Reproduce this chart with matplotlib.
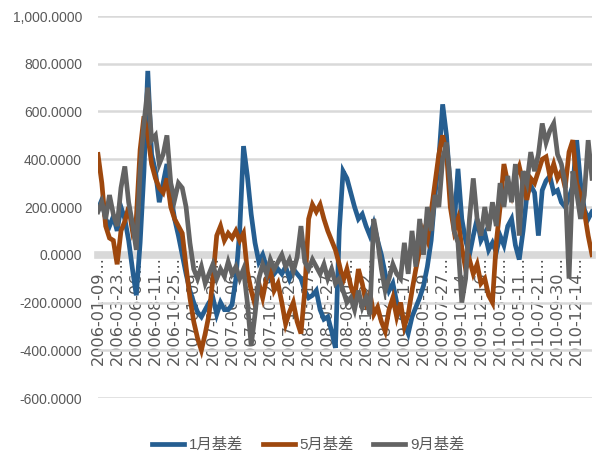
import matplotlib
matplotlib.use("Agg")
import matplotlib.pyplot as plt
from matplotlib.ticker import FuncFormatter

# ---- data: basis series (sampled roughly every 10 trading days) ----
tick_dates = [
    "2006-01-09", "2006-03-23", "2006-06-06", "2006-08-11", "2006-10-25",
    "2007-01-09", "2007-03-26", "2007-06-06", "2007-08-15", "2007-10-29",
    "2007-12-28", "2008-03-17", "2008-05-27", "2008-08-05", "2008-10-22",
    "2008-12-31", "2009-03-17", "2009-05-19", "2009-07-27", "2009-10-14",
    "2009-12-16", "2010-03-02", "2010-05-11", "2010-07-21", "2010-09-30",
    "2010-12-14",
]

jan_basis = [
    190, 230, 150, 120, 160, 100, 200, 150, 60, -60,
    -170, 50, 350, 770, 420, 350, 220, 300, 380, 250,
    150, 80, 0, -80, -150, -200, -240, -260, -230, -200,
    -180, -250, -200, -230, -230, -210, -100, 100, 455, 330,
    170, 50, -30, 0, -50, -100, -80, -60, -80, -50,
    -100, -60, -80, -100, -150, -180, -170, -150, -230, -270,
    -260, -320, -390, 100, 350, 320, 260, 200, 150, 170,
    120, 80, 130, 60, 0, -80, -150, -120, -200, -240,
    -290, -330, -260, -220, -180, -130, -50, 60, 250, 400,
    630, 500, 280, 120, 360, 150, 60, 0, 80, 150,
    60, 90, 20, 50, 10, 80, 40, 120, 150, 40,
    -20, 100, 250, 290, 260, 80, 270, 310, 330, 260,
    270, 220, 200, 240, 290, 480, 300, 190, 150, 180,
]

may_basis = [
    420, 300, 120, 70, 60, -40, 100, 140, 200, 100,
    150, 440, 580, 500, 380, 320, 280, 260, 320, 200,
    150, 120, 90, -50, -180, -280, -350, -400, -330, -250,
    -100, 80, 120, 60, 90, 70, 100, 60, 90, -70,
    -150, -210, -120, -180, -100, -60, -150, -120, -200, -290,
    -240, -200, -280, -330, -150, 150, 210, 180, 210, 150,
    100, 60, 20, -40, -110, -60, -130, -180, -60, -120,
    -200, -160, -250, -220, -280, -320, -230, -180, -260, -200,
    -300, -250, -150, -60, 20, 100, 60, 180, 300, 420,
    500, 430, 200, 100, 150, 30, -60, -20, -80, -40,
    -120, -100, -170, -200, 50, 200, 380, 300, 250, 330,
    370, 300, 230, 320, 300, 350, 400, 410, 330, 380,
    320, 350, 280, 430, 480, 300, 250, 180, 80, 0,
]

sep_basis = [
    180, 220, 150, 250, 170, 120, 280, 370, 220, 130,
    20, 350, 550, 700, 480, 500, 380, 420, 500, 300,
    230, 300, 280, 200, 50, -60, -100, -50, -120, -80,
    -40, -100, -60, -90, -30, -80, -50, -100, -60, -200,
    -380, -250, -100, -40, -80, -20, -60, -30, 0, -50,
    -20, -70, -10, 120, -30, -60, -20, -50, -80, -40,
    -100, -60, -120, -100, -150, -200, -180, -230, -150, -220,
    -180, -250, 150, 60, -60, -150, -100, -40, -80, -100,
    50, -80, 100, -50, 150, 0, 200, 100, 250, 200,
    400, 470, 300, 100, 50, -200, -100, 150, 320, 150,
    80, 200, 100, 220, 120, 300, 200, 330, 220, 380,
    80, 350, 300, 430, 350, 420, 550, 470, 520, 550,
    420, 380, 300, -100, 350, 260, 150, 250, 480, 320,
]

series_names = ["1月基差", "5月基差", "9月基差"]
series_colors = ["#255E91", "#9E480E", "#636363"]

# ---- figure ----
LATIN = ["Liberation Sans", "DejaVu Sans"]
CJK = ["Liberation Sans", "Noto Sans CJK SC", "DejaVu Sans"]
TEXT_GRAY = "#595959"

fig = plt.figure(figsize=(5.96, 4.65), dpi=100)
ax = fig.add_axes([98 / 596, 1 - 398 / 465, 494 / 596, 382 / 465])

x = range(len(jan_basis))
for vals, name, col in zip([jan_basis, may_basis, sep_basis], series_names, series_colors):
    ax.plot(x, vals, color=col, lw=3.4, label=name, zorder=3,
            solid_joinstyle="miter")

ax.set_xlim(0, len(jan_basis) - 1)
ax.set_ylim(-600, 1000)
ax.set_yticks(range(-600, 1001, 200))
ax.yaxis.set_major_formatter(FuncFormatter(lambda v, p: f"{v:,.4f}"))
ax.grid(axis="y", color="#d9d9d9", lw=1.8)
ax.set_axisbelow(True)

for side in ["top", "right", "left"]:
    ax.spines[side].set_visible(False)
# category axis crosses at zero
ax.spines["bottom"].set_position(("data", 0))
ax.spines["bottom"].set_color("#d9d9d9")
ax.spines["bottom"].set_linewidth(5.5)
ax.spines["bottom"].set_zorder(1)

ax.set_xticks(range(0, len(jan_basis), 5))
ax.set_xticklabels([d + "..." for d in tick_dates], rotation=90,
                   family="DejaVu Sans")
ax.tick_params(axis="x", length=0, pad=1, labelsize=11.6, labelcolor=TEXT_GRAY)
ax.tick_params(axis="y", length=0, pad=11.5, labelsize=10, labelcolor=TEXT_GRAY)
for lab in ax.get_yticklabels():
    lab.set_family(LATIN)

fig.legend(loc="center", bbox_to_anchor=(308 / 596, 1 - 445 / 465), ncol=3,
           frameon=False, handlelength=2.1, handletextpad=0.3,
           columnspacing=1.3, prop={"family": CJK, "size": 11},
           labelcolor=TEXT_GRAY)

fig.savefig("out.png", dpi=100)
